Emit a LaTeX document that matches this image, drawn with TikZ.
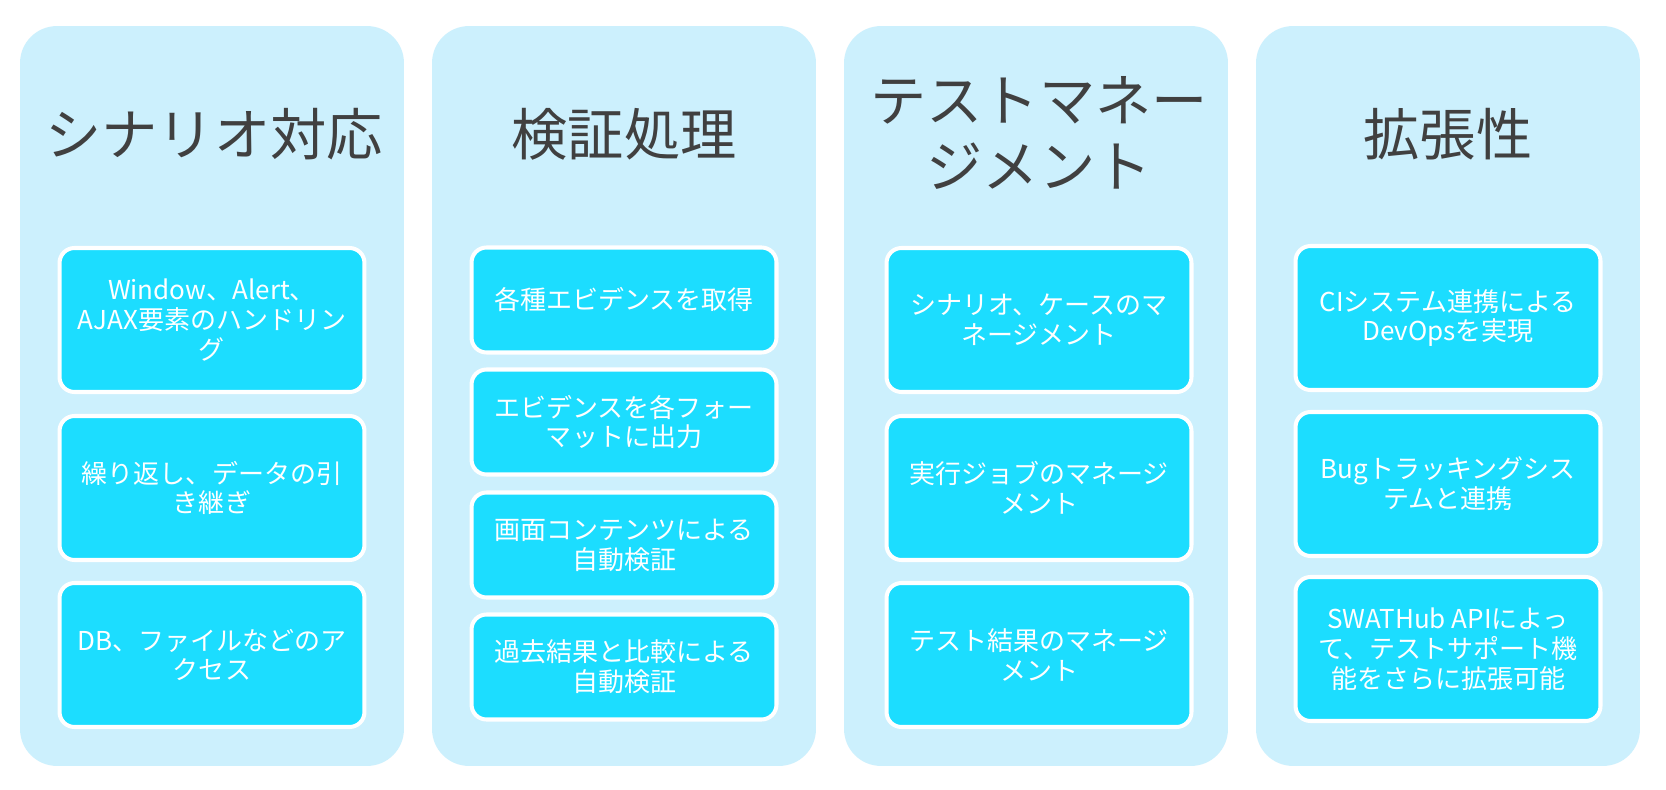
\documentclass[tikz,border=0pt]{standalone}
\usepackage{fontspec}
\setmainfont{Noto Sans CJK JP}
\usepackage{tikz}
\usetikzlibrary{positioning}
\definecolor{colbg}{HTML}{CCF0FD}
\definecolor{itemcyan}{HTML}{1CDDFF}
\definecolor{titlegray}{HTML}{404040}
\tikzset{
  colbox/.style={fill=colbg, rounded corners=21pt, minimum width=7.68cm, minimum height=14.8cm, inner sep=0pt},
  coltitle/.style={text=titlegray, align=center, font=\fontsize{32pt}{37.5pt}\selectfont},
  itembox/.style={fill=itemcyan, draw=white, line width=2.3pt, rounded corners=8.5pt,
    minimum width=6.1cm, inner sep=0pt, text=white, align=center,
    font=\fontsize{14.8pt}{17pt}\selectfont},
  tallitem/.style={itembox, minimum height=2.88cm},
  shortitem/.style={itembox, minimum height=2.1cm}
}
\newcommand{\ItemBox}[4]{%
  \node[#1] (#2) at #3 {#4};
}

\begin{document}
\begin{tikzpicture}[x=0.02cm,y=-0.02cm]
  \fill[white] (0,0) rectangle (1666,790);
  \useasboundingbox (0,0) rectangle (1666,790);
  % columns
  \node[colbox] (scen) at (212,396) {};
  \node[colbox] (verif) at (624,396) {};
  \node[colbox] (mgmt) at (1036,396) {};
  \node[colbox] (ext) at (1448,396) {};
  \node[coltitle] (scenT) at (214,134) {シナリオ対応};
  \node[coltitle] (verifT) at (624,134) {検証処理};
  \node[coltitle] (mgmtT) at (1039,133) {テストマネー\\ジメント};
  \node[coltitle] (extT) at (1448,134) {拡張性};
  % scenario
  \ItemBox{tallitem}{scenA}{(212,320)}{Window、Alert、\\AJAX要素のハンドリン\\グ}
  \ItemBox{tallitem}{scenB}{(212,488)}{繰り返し、データの引\\き継ぎ}
  \ItemBox{tallitem}{scenC}{(212,655)}{DB、ファイルなどのア\\クセス}
  % verification
  \ItemBox{shortitem}{verifA}{(624,300)}{各種エビデンスを取得}
  \ItemBox{shortitem}{verifB}{(624,422)}{エビデンスを各フォー\\マットに出力}
  \ItemBox{shortitem}{verifC}{(624,545)}{画面コンテンツによる\\自動検証}
  \ItemBox{shortitem}{verifD}{(624,667)}{過去結果と比較による\\自動検証}
  % management
  \ItemBox{tallitem}{mgmtA}{(1039,320)}{シナリオ、ケースのマ\\ネージメント}
  \ItemBox{tallitem}{mgmtB}{(1039,488)}{実行ジョブのマネージ\\メント}
  \ItemBox{tallitem}{mgmtC}{(1039,655)}{テスト結果のマネージ\\メント}
  % extension
  \ItemBox{tallitem}{extA}{(1448,318)}{CIシステム連携による\\DevOpsを実現}
  \ItemBox{tallitem}{extB}{(1448,484)}{Bugトラッキングシス\\テムと連携}
  \ItemBox{tallitem}{extC}{(1448,649)}{SWATHub APIによっ\\て、テストサポート機\\能をさらに拡張可能}
\end{tikzpicture}
\end{document}
